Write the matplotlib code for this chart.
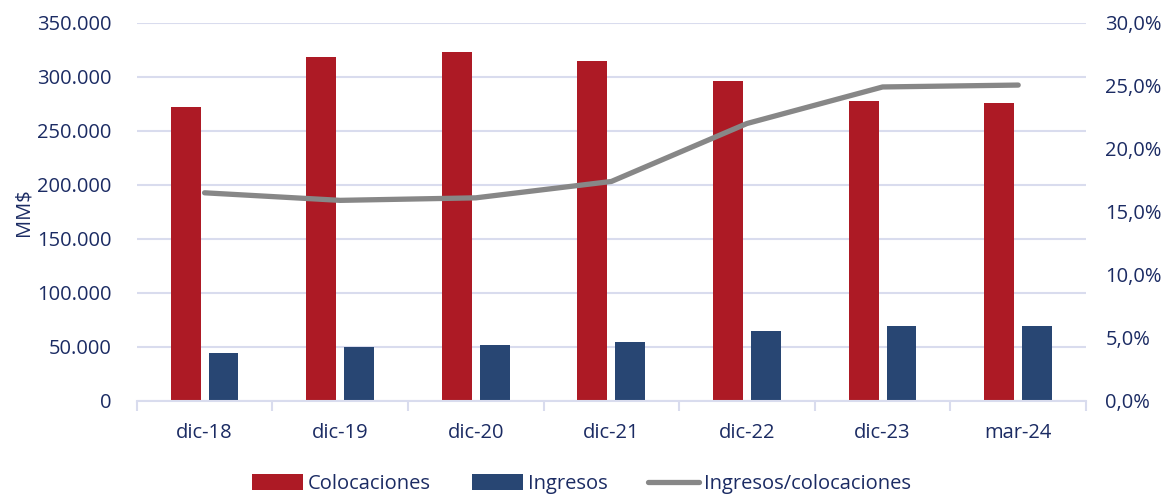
import matplotlib.pyplot as plt
import matplotlib.ticker as mticker
from matplotlib.patches import Patch
from matplotlib.lines import Line2D
import numpy as np

plt.rcParams["font.family"] = ["Open Sans", "DejaVu Sans"]

# datos
periodos = ["dic-18", "dic-19", "dic-20", "dic-21", "dic-22", "dic-23", "mar-24"]
colocaciones = [271900, 318500, 322600, 314200, 296000, 277500, 275900]
ingresos = [44400, 50000, 51600, 54400, 64500, 68900, 69000]
ratio = [16.5, 15.9, 16.1, 17.4, 22.0, 24.9, 25.05]

c_rojo = "#ad1a25"
c_azul = "#284673"
c_gris = "#878787"
c_texto = "#1b2b63"
c_grid = "#d9dcee"
fs = 14.5

fig = plt.figure(figsize=(11.69, 5.0), dpi=100)
ax = fig.add_axes([0.117, 0.1986, 0.812, 0.756])

x = np.arange(len(periodos))
w = 0.22
ax.bar(x - 0.14, colocaciones, width=w, color=c_rojo, zorder=2)
ax.bar(x + 0.14, ingresos, width=w, color=c_azul, zorder=2)

ax.set_xlim(-0.5, len(periodos) - 0.5)
ax.set_ylim(0, 350000)
ax.yaxis.set_major_locator(mticker.MultipleLocator(50000))
ax.yaxis.set_major_formatter(mticker.FuncFormatter(lambda v, p: f"{int(v):,}".replace(",", ".")))
ax.grid(axis="y", color=c_grid, linewidth=1.5, zorder=0)
ax.set_axisbelow(True)
for s in ["top", "right", "left"]:
    ax.spines[s].set_visible(False)
ax.spines["bottom"].set_color(c_grid)
ax.spines["bottom"].set_linewidth(1.5)

ax.set_xticks(x)
ax.set_xticklabels(periodos)
ax.set_xticks(np.arange(-0.5, len(periodos)), minor=True)
ax.tick_params(axis="x", which="major", length=0, pad=16, labelsize=fs, labelcolor=c_texto)
ax.tick_params(axis="x", which="minor", length=7, width=1.5, color=c_grid)
ax.tick_params(axis="y", length=0, pad=18, labelsize=fs, labelcolor=c_texto)
ax.set_ylabel("MM$", fontsize=fs, color=c_texto, labelpad=3)

ax2 = ax.twinx()
ax2.plot(x, ratio, color=c_gris, linewidth=3.8, solid_capstyle="round", solid_joinstyle="round", zorder=3)
ax2.set_ylim(0, 30)
ax2.yaxis.set_major_locator(mticker.MultipleLocator(5))
ax2.yaxis.set_major_formatter(mticker.FuncFormatter(lambda v, p: f"{v:.1f}%".replace(".", ",")))
ax2.tick_params(axis="y", length=0, pad=14, labelsize=fs, labelcolor=c_texto)
for s in ax2.spines.values():
    s.set_visible(False)

handles = [
    Patch(facecolor=c_rojo, label="Colocaciones"),
    Patch(facecolor=c_azul, label="Ingresos"),
    Line2D([0], [0], color=c_gris, linewidth=3.8, solid_capstyle="round", label="Ingresos/colocaciones"),
]
leg = fig.legend(handles=handles, loc="center", bbox_to_anchor=(0.4975, 0.032), ncol=3,
                 frameon=False, fontsize=fs, handlelength=2.55, handleheight=0.85,
                 handletextpad=0.25, columnspacing=2.0)
for t in leg.get_texts():
    t.set_color(c_texto)

fig.savefig("out.png", dpi=100)
